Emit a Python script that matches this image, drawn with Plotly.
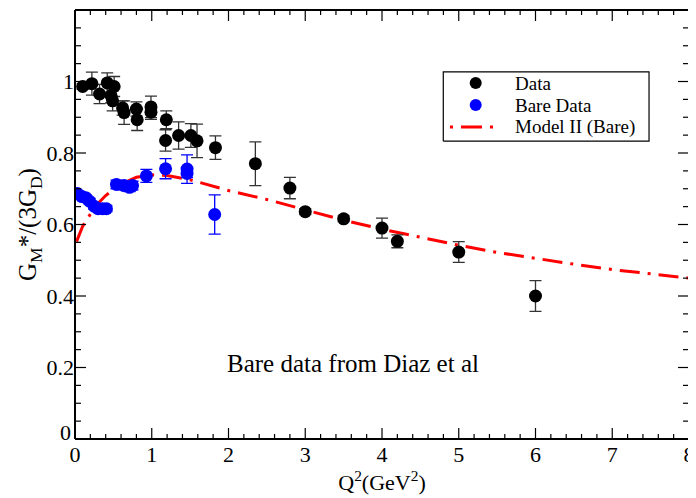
import plotly.graph_objects as go

# Data (black)
data_x = [0.10, 0.22, 0.32, 0.42, 0.51, 0.47, 0.49, 0.62, 0.64, 0.80, 0.81, 0.99, 0.99,
          1.19, 1.18, 1.35, 1.51, 1.59, 1.83, 2.35, 2.80, 3.00, 3.50, 4.00, 4.20, 5.00, 6.00]
data_y = [0.986, 0.994, 0.965, 0.996, 0.986, 0.960, 0.946, 0.926, 0.913, 0.923, 0.893, 0.929, 0.914,
          0.893, 0.835, 0.849, 0.849, 0.834, 0.815, 0.770, 0.702, 0.636, 0.616, 0.590, 0.553, 0.523, 0.400]
data_err = [0.008, 0.032, 0.027, 0.028, 0.028, 0.020, 0.028, 0.020, 0.033, 0.020, 0.030, 0.030, 0.020,
            0.025, 0.030, 0.038, 0.033, 0.047, 0.033, 0.061, 0.030, 0.008, 0.008, 0.028, 0.018, 0.029, 0.043]

# Bare data (blue)
bare_x = [0.03, 0.09, 0.14, 0.19, 0.25, 0.30, 0.36, 0.41, 0.54, 0.64, 0.71, 0.75, 0.93, 1.18, 1.46, 1.46, 1.82]
bare_y = [0.687, 0.678, 0.675, 0.665, 0.651, 0.644, 0.644, 0.644, 0.712, 0.709, 0.704, 0.709, 0.736, 0.756, 0.755, 0.743, 0.628]
bare_err = [0.008, 0.008, 0.008, 0.008, 0.008, 0.008, 0.008, 0.008, 0.012, 0.012, 0.012, 0.012, 0.018, 0.028, 0.040, 0.012, 0.055]

# Model II (Bare)
model_x = [0.02, 0.1, 0.2, 0.3, 0.4, 0.5, 0.6, 0.8, 1.0, 1.2, 1.5, 2.0, 2.5, 3.0, 3.5, 4.0,
           4.5, 5.0, 5.5, 6.0, 6.5, 7.0, 7.5, 8.0]
model_y = [0.552, 0.595, 0.629, 0.659, 0.681, 0.699, 0.713, 0.732, 0.739, 0.737, 0.725, 0.695, 0.670,
           0.641, 0.612, 0.587, 0.564, 0.542, 0.522, 0.505, 0.489, 0.474, 0.461, 0.450]

# Axis ticks
x_major = [0, 1, 2, 3, 4, 5, 6, 7, 8]
x_minor = [round(i * 0.2, 2) for i in range(41) if i % 5 != 0]
y_major = [0, 0.2, 0.4, 0.6, 0.8, 1.0, 1.2]
y_minor = [round(i * 0.05, 2) for i in range(25) if i % 4 != 0]
y_tick_labels = ["0.2", "0.4", "0.6", "0.8", "1"]

legend_labels = ["Data", "Bare Data", "Model II (Bare)"]

font_family = "Liberation Serif"

fig = go.Figure()

# plot frame drawn as a line trace along the axis limits
xa, xb, ya, yb = x_major[0], x_major[-1], y_major[0], y_major[-1]
fig.add_trace(go.Scatter(
    x=[xa, xb, xb, xa, xa], y=[ya, ya, yb, yb, ya], mode="lines",
    line=dict(color="#000000", width=2), cliponaxis=False,
    hoverinfo="skip", showlegend=False,
))

fig.add_trace(go.Scatter(
    x=model_x, y=model_y, mode="lines", name="Model II (Bare)",
    line=dict(color="#ff0000", width=3, dash="20px,8px,3px,8px"),
    showlegend=False,
))
fig.add_trace(go.Scatter(
    x=data_x, y=data_y, mode="markers", name="Data",
    marker=dict(color="black", size=13, symbol="circle"),
    error_y=dict(type="data", array=data_err, color="#333333", thickness=1.3, width=6),
    showlegend=False,
))
fig.add_trace(go.Scatter(
    x=bare_x, y=bare_y, mode="markers", name="Bare Data",
    marker=dict(color="#0000ff", size=13, symbol="circle"),
    error_y=dict(type="data", array=bare_err, color="#0000ff", thickness=1.3, width=6),
    showlegend=False,
))

# legend box on an overlay axis pair spanning [0, 1] of the plot area
lx0, lx1, ly0, ly1 = 0.5998, 0.9349, 0.6943, 0.856
fig.add_trace(go.Scatter(
    x=[lx0, lx1, lx1, lx0, lx0], y=[ly0, ly0, ly1, ly1, ly0], mode="lines",
    xaxis="x2", yaxis="y2", line=dict(color="#000000", width=1.2),
    cliponaxis=False, hoverinfo="skip", showlegend=False,
))

fig.add_annotation(
    x=3.62, y=0.211, text="Bare data from Diaz et al", showarrow=False,
    font=dict(family=font_family, size=25, color="black"),
)
# y-axis "0" label, raised slightly as in the original
fig.add_annotation(
    x=0, y=0, xref="paper", yref="y", text="0", showarrow=False,
    xanchor="right", yanchor="middle", xshift=-2, yshift=7,
    font=dict(family=font_family, size=22, color="black"),
)

shapes = []
tick_style = dict(color="black", width=1.2)
# x ticks (bottom and top)
for v in x_major + x_minor:
    L = 11 if v in x_major else 5
    shapes.append(dict(type="line", xref="x", yref="paper", ysizemode="pixel", yanchor=0,
                       x0=v, x1=v, y0=0, y1=L, line=tick_style))
    shapes.append(dict(type="line", xref="x", yref="paper", ysizemode="pixel", yanchor=1,
                       x0=v, x1=v, y0=0, y1=-L, line=tick_style))
# y ticks (left and right)
for v in y_major + y_minor:
    L = 11 if v in y_major else 6
    shapes.append(dict(type="line", yref="y", xref="paper", xsizemode="pixel", xanchor=0,
                       y0=v, y1=v, x0=0, x1=L, line=tick_style))
    shapes.append(dict(type="line", yref="y", xref="paper", xsizemode="pixel", xanchor=1,
                       y0=v, y1=v, x0=0, x1=-L, line=tick_style))

# frame also as thin filled rectangles (pixel thick) along each edge
for edge in [0, 1]:
    shapes.append(dict(type="rect", xref="paper", yref="paper", ysizemode="pixel", yanchor=edge,
                       x0=0, x1=1, y0=-1, y1=1, line=dict(width=0), fillcolor="#000000"))
    shapes.append(dict(type="rect", xref="paper", yref="paper", xsizemode="pixel", xanchor=edge,
                       y0=0, y1=1, x0=-1, x1=1, line=dict(width=0), fillcolor="#000000"))

legend_rows = [0.8296, 0.7783, 0.7270]
for yy, col in zip(legend_rows[:2], ["black", "#0000ff"]):
    shapes.append(dict(type="circle", xref="paper", yref="paper", xsizemode="pixel", ysizemode="pixel",
                       xanchor=0.6526, yanchor=yy, x0=-6, x1=6, y0=-6, y1=6,
                       line=dict(color=col, width=0), fillcolor=col))
shapes.append(dict(type="line", xref="paper", yref="paper", x0=0.6107, x1=0.6808,
                   y0=legend_rows[2], y1=legend_rows[2],
                   line=dict(color="#ff0000", width=3, dash="3px,8px,21px,8px")))
for yy, lab in zip(legend_rows, legend_labels):
    fig.add_annotation(x=0.7129, y=yy, xref="paper", yref="paper", text=lab, showarrow=False,
                       xanchor="left", yanchor="middle",
                       font=dict(family=font_family, size=19, color="black"))

fig.update_layout(
    width=688, height=490,
    margin=dict(l=67, r=7, t=2, b=59),
    plot_bgcolor="white", paper_bgcolor="white",
    font=dict(family=font_family, color="black"),
    showlegend=False,
    shapes=shapes,
    xaxis2=dict(overlaying="x", range=[0, 1], visible=False, fixedrange=True),
    yaxis2=dict(overlaying="y", range=[0, 1], visible=False, fixedrange=True),
)
fig.update_xaxes(
    selector=dict(anchor="y"),
    range=[0, 8], tickvals=x_major,
    showgrid=False, zeroline=False, showline=False, ticks="",
    tickfont=dict(family=font_family, size=22, color="black"),
    title_text="Q<sup>2</sup>(GeV<sup>2</sup>)",
    title_font=dict(family=font_family, size=22, color="black"),
    title_standoff=2,
)
fig.layout.xaxis.update(
    range=[0, 8], tickvals=x_major,
    showgrid=False, zeroline=False, showline=False, ticks="",
    tickfont=dict(family=font_family, size=22, color="black"),
    title_text="Q<sup>2</sup>(GeV<sup>2</sup>)",
    title_font=dict(family=font_family, size=22, color="black"),
    title_standoff=2,
)
fig.layout.yaxis.update(
    range=[0, 1.2], tickvals=y_major[1:-1], ticktext=y_tick_labels,
    showgrid=False, zeroline=False, showline=False, ticks="",
    tickfont=dict(family=font_family, size=22, color="black"),
    title_text="G<sub>M</sub>*/(3G<sub>D</sub>)",
    title_font=dict(family=font_family, size=25, color="black"),
    title_standoff=2,
)

fig.write_html("out.html")
